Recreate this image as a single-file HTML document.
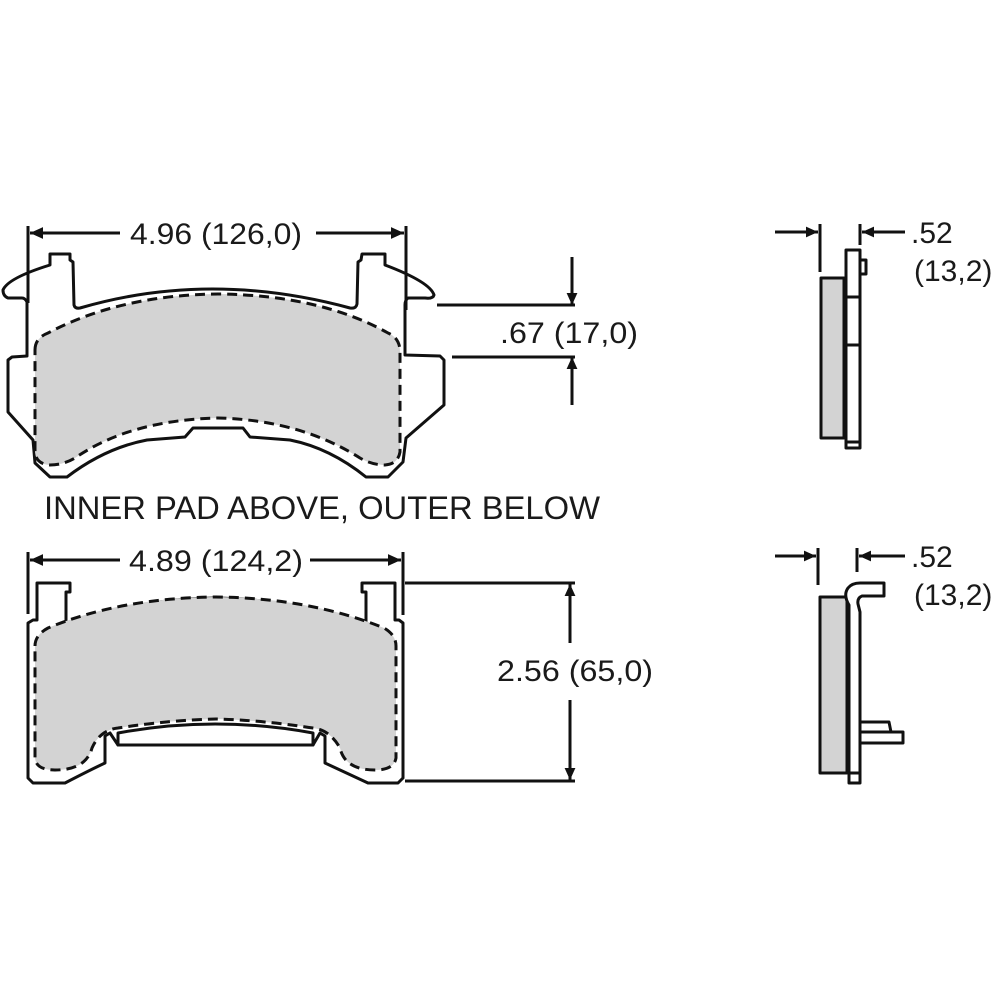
<!DOCTYPE html>
<html><head><meta charset="utf-8"><style>
html,body{margin:0;padding:0;background:#fff}
svg{display:block}
text{font-family:"Liberation Sans",Arial,sans-serif;fill:#1a1a1a}
</style></head><body>
<svg width="1000" height="1000" viewBox="0 0 1000 1000" xmlns="http://www.w3.org/2000/svg">
<defs>
<marker id="ar" viewBox="0 0 10 10" refX="10" refY="5" markerWidth="12" markerHeight="16" markerUnits="userSpaceOnUse" orient="auto-start-reverse">
<path d="M0,0.5 L10,5 L0,9.5 z" fill="#111"/></marker>
<marker id="a2" viewBox="0 0 10 10" refX="10" refY="5" markerWidth="22" markerHeight="13" markerUnits="userSpaceOnUse" orient="auto-start-reverse">
<path d="M0,0.5 L10,5 L0,9.5 z" fill="#111"/></marker>
<marker id="a3" viewBox="0 0 10 10" refX="10" refY="5" markerWidth="16" markerHeight="12" markerUnits="userSpaceOnUse" orient="auto-start-reverse">
<path d="M0,0.5 L10,5 L0,9.5 z" fill="#111"/></marker>
</defs>
<g stroke="#111" stroke-width="3" fill="none" stroke-linejoin="round">

<line x1="28" y1="226" x2="28" y2="303"/>
<line x1="406" y1="226" x2="406" y2="310"/>
<line x1="30" y1="233" x2="120" y2="233" marker-start="url(#a2)"/>
<line x1="316" y1="233" x2="404" y2="233" marker-end="url(#a2)"/>

<path d="M50,265 L50,254 L70,254 L70,260 L73,262 L74,305 Q75,309 80,308 Q210,270 350,308 Q356,309 357,304 L358,262 L361,260 L362,254 L385,254 L385,265 Q430,282 434,295 Q433,299 425,298 L408,298 Q405,300 405,305 L405,355 L440,356 L444,360 L444,405 L406,438 L403,462 L388,477 L366,477 Q330,448 290,440 L250,437 L243,428 L193,428 L185,437 L147,440 Q105,448 67,477 L50,477 L35,463 L33,440 L8,412 L8,360 L12,357 L27,356 L27,302 Q25,298 22,298 L8,298 Q3,296 3,290 Q8,278 50,265 Z"/>
<path d="M35,350 Q35,338 48,333 Q120,295 218,294 Q320,295 388,333 Q400,338 400,352 L400,452 Q398,464 385,465 Q372,465 360,458 Q300,420 218,418 Q130,420 75,458 Q63,465 50,465 Q36,464 35,452 Z" fill="#d3d3d3" stroke-dasharray="10,6"/>

<line x1="437" y1="305" x2="575" y2="305"/>
<line x1="452" y1="357" x2="575" y2="357"/>
<line x1="572" y1="257" x2="572" y2="305" marker-end="url(#ar)"/>
<line x1="572" y1="405" x2="572" y2="357" marker-end="url(#ar)"/>

<line x1="28" y1="552" x2="28" y2="614"/>
<line x1="403" y1="552" x2="403" y2="615"/>
<line x1="30" y1="560" x2="120" y2="560" marker-start="url(#a2)"/>
<line x1="310" y1="560" x2="401" y2="560" marker-end="url(#a2)"/>

<path d="M28,623 L33,620 L37,620 L37,583 L70,583 L70,592 L66,592 L66,625 L60,630 Q120,600 215,598 Q310,600 372,630 L366,625 L366,592 L362,592 L362,583 L395,583 L395,620 L399,620 L403,623 L403,778 L398,783 L368,783 Q340,770 325,763 L325,736 L320,733 L313,745 L118,745 L110,733 L105,736 L105,763 Q90,770 65,783 L33,783 L28,778 Z"/>
<path d="M118,733 Q215,715 313,733 L313,745 L118,745 Z"/>
<path d="M35,646 Q35,635 48,628 Q120,598 216,597 Q310,598 384,628 Q396,635 396,646 L396,758 Q394,770 375,770 Q345,770 340,748 Q330,730 313,728 Q260,720 216,719 Q170,720 118,728 Q100,730 92,748 Q86,770 55,770 Q36,770 35,758 Z" fill="#d3d3d3" stroke-dasharray="10,6"/>

<line x1="405" y1="583" x2="575" y2="583"/>
<line x1="405" y1="781" x2="575" y2="781"/>
<line x1="570" y1="643" x2="570" y2="584" marker-end="url(#ar)"/>
<line x1="570" y1="700" x2="570" y2="780" marker-end="url(#ar)"/>

<line x1="820" y1="224" x2="820" y2="272"/>
<line x1="860" y1="224" x2="860" y2="245"/>
<line x1="775" y1="232" x2="818" y2="232" marker-end="url(#a3)"/>
<line x1="905" y1="232" x2="862" y2="232" marker-end="url(#a3)"/>
<rect x="821" y="278" width="23" height="160" fill="#d3d3d3"/>
<rect x="846" y="250" width="14" height="198" fill="#fff"/>
<line x1="846" y1="297" x2="860" y2="297"/>
<line x1="846" y1="345" x2="860" y2="345"/>
<line x1="846" y1="442" x2="860" y2="442"/>
<rect x="860" y="260" width="6" height="14" fill="#fff"/>

<line x1="818" y1="548" x2="818" y2="585"/>
<line x1="857" y1="548" x2="857" y2="572"/>
<line x1="775" y1="556" x2="816" y2="556" marker-end="url(#a3)"/>
<line x1="905" y1="556" x2="859" y2="556" marker-end="url(#a3)"/>
<rect x="820" y="597" width="27" height="176" fill="#d3d3d3"/>
<path d="M849,782 L849,605 Q843,595 848,588 Q852,583 860,583 L884,583 L884,596 L862,596 Q857,598 858,604 L860,612 L860,782 Z" fill="#fff"/>
<rect x="849" y="773" width="11" height="10" fill="#fff"/>
<path d="M860,722 L889,722 L891,732 L860,732 Z" fill="#fff"/>
<rect x="860" y="732" width="43" height="11" fill="#fff"/>
</g>

<g stroke="none">
<text x="130" y="244" font-size="30" textLength="172" lengthAdjust="spacingAndGlyphs">4.96 (126,0)</text>
<text x="500" y="343" font-size="30" textLength="138" lengthAdjust="spacingAndGlyphs">.67 (17,0)</text>
<text x="44" y="519" font-size="32" textLength="556" lengthAdjust="spacingAndGlyphs">INNER PAD ABOVE, OUTER BELOW</text>
<text x="129" y="571" font-size="30" textLength="174" lengthAdjust="spacingAndGlyphs">4.89 (124,2)</text>
<text x="497" y="681" font-size="30" textLength="156" lengthAdjust="spacingAndGlyphs">2.56 (65,0)</text>
<text x="911" y="243" font-size="30">.52</text>
<text x="914" y="281" font-size="30">(13,2)</text>
<text x="911" y="567" font-size="30">.52</text>
<text x="914" y="605" font-size="30">(13,2)</text>
</g>
</svg>
</body></html>
